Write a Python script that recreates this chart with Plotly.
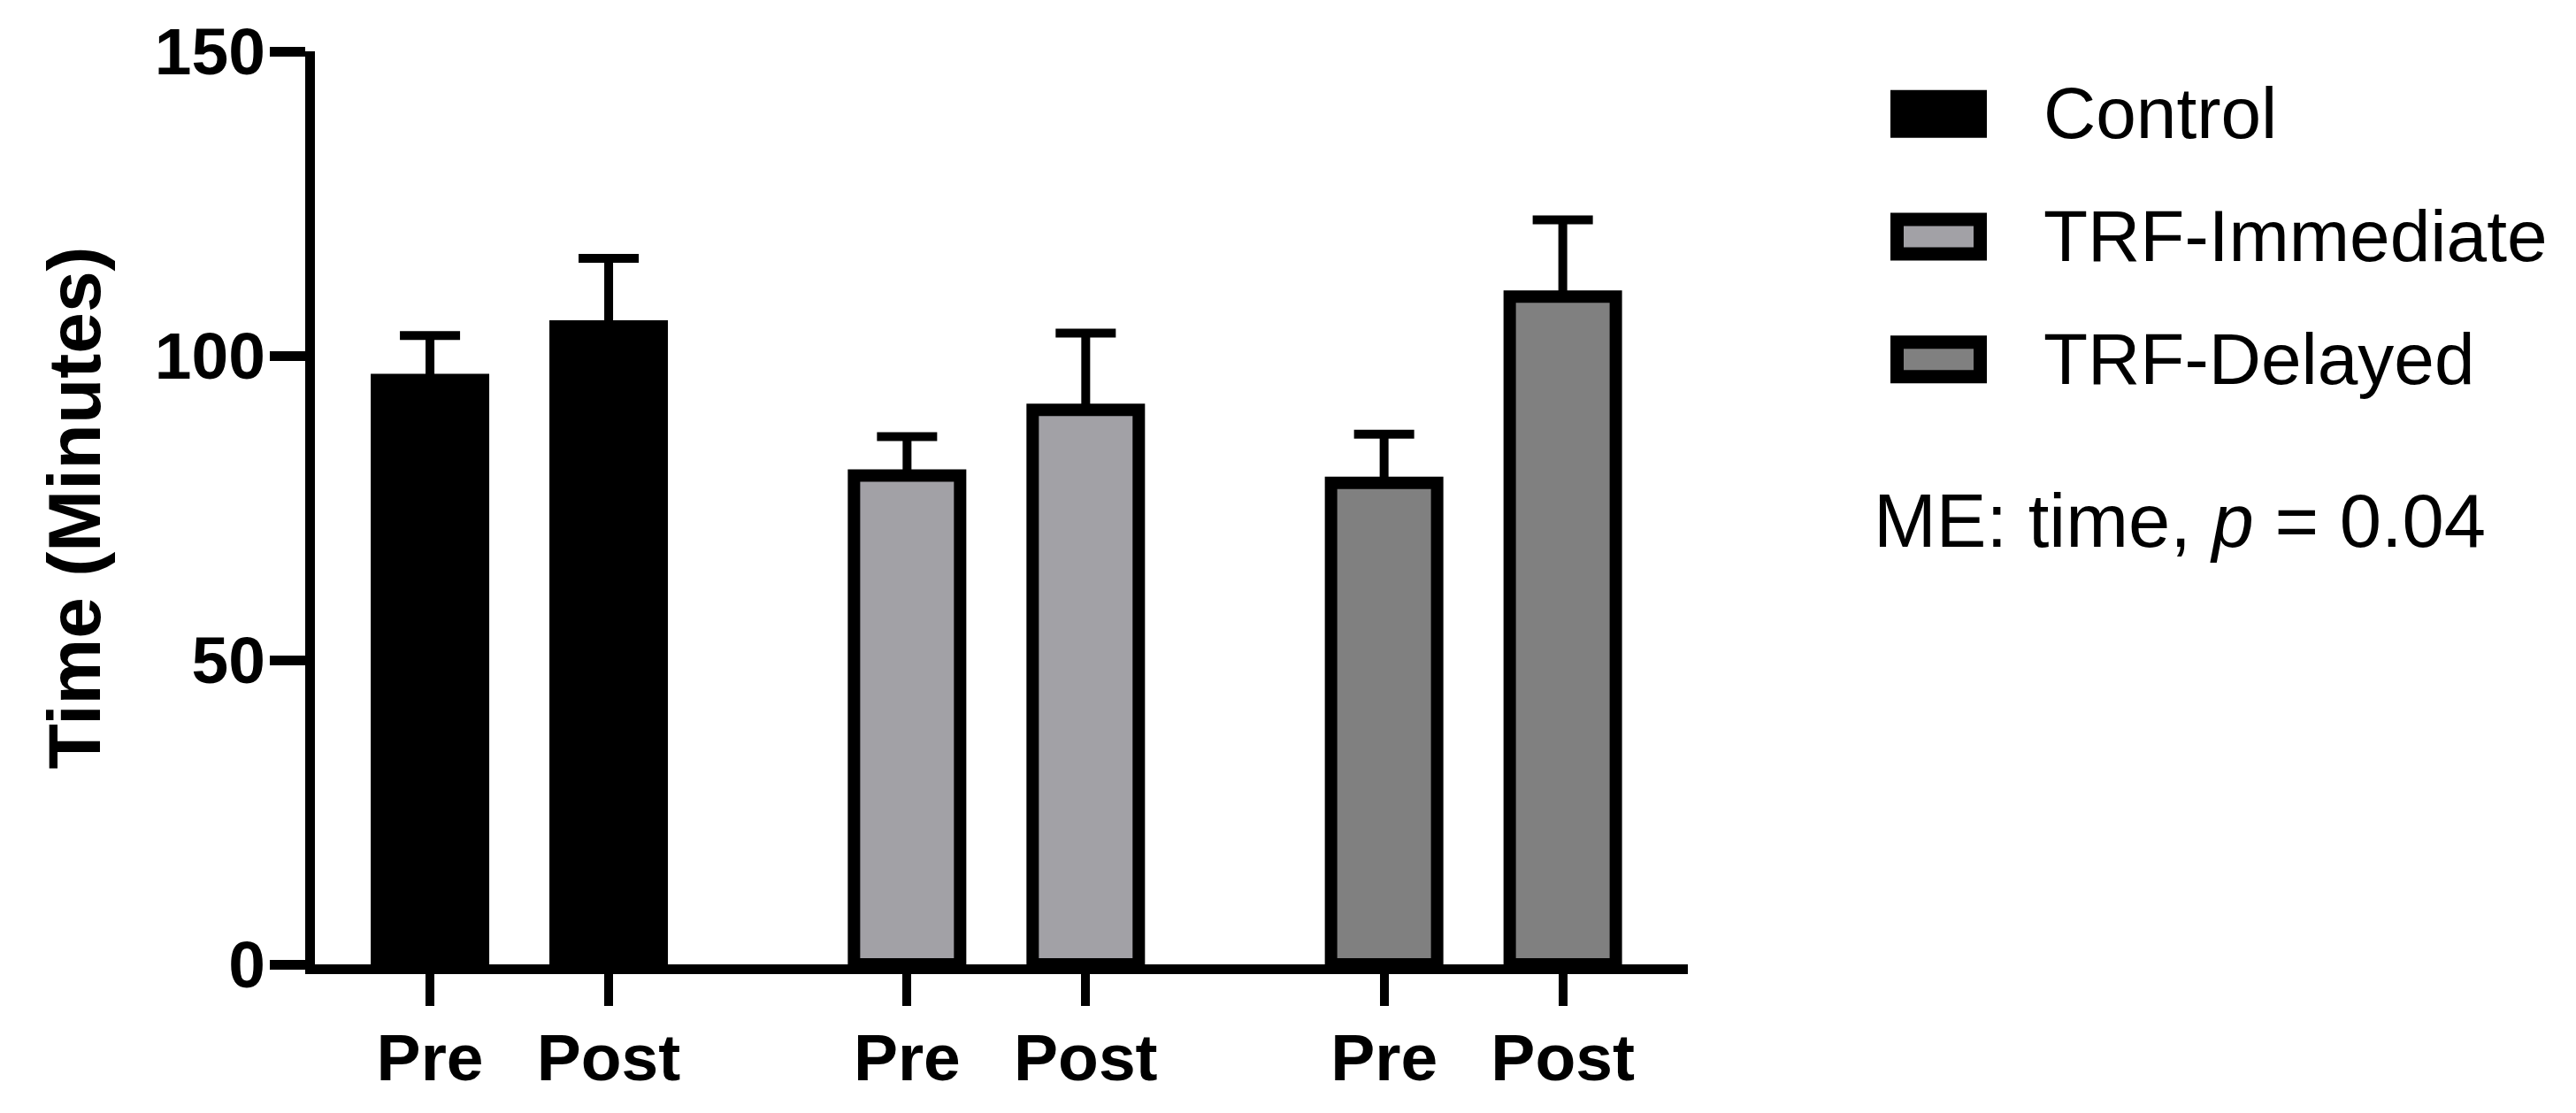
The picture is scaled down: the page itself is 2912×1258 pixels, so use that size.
import plotly.graph_objects as go

# ---------------- data ----------------
groups = ["Control", "TRF-Immediate", "TRF-Delayed"]
timepoints = ["Pre", "Post"]
means_control = [96.0, 104.8]
means_immediate = [80.3, 91.1]
means_delayed = [79.1, 109.7]
sem_control = [7.3, 11.2]
sem_immediate = [6.4, 12.6]
sem_delayed = [8.0, 12.6]
y_ticks = [0, 50, 100, 150]
stat_text = "ME: time, <i>p</i> = 0.04"

# ---------------- styling ----------------
fill_colors = ["#000000", "#A2A1A6", "#808080"]
FONT = "Arial, Liberation Sans, Helvetica, sans-serif"
W, H = 2912, 1258
OFF = 8  # page body margin offset
PW, PH = 1552, 1032
L, T = 356 - OFF, 58 - OFF
R, B = W - L - PW, H - T - PH
GROUP_STEP = 2.67
BAR_W = 0.594
X_RANGE = [-0.644, 7.04]


def px_to_paper_x(px):
    return (px - OFF - L) / PW


def px_to_paper_y(py):
    return 1 - (py - OFF - T) / PH


means = [means_control, means_immediate, means_delayed]
sems = [sem_control, sem_immediate, sem_delayed]

fig = go.Figure()
tickvals, ticktext = [], []
for gi, name in enumerate(groups):
    xs = [gi * GROUP_STEP + k for k in range(len(timepoints))]
    tickvals += xs
    ticktext += timepoints
    fig.add_trace(go.Bar(
        x=xs, y=means[gi], name=name, width=BAR_W,
        marker=dict(color=fill_colors[gi], line=dict(color="black", width=14)),
        error_y=dict(type="data", array=sems[gi], arrayminus=[0] * len(xs),
                     symmetric=False, color="black", thickness=10, width=34),
        showlegend=False,
    ))

# custom legend (large keys as in the original)
legend_x0, legend_x1 = 2137, 2246
row_centers = [128.8, 267.5, 406.2]
key_h = 54
for gi, name in enumerate(groups):
    yc = row_centers[gi]
    fig.add_shape(type="rect", xref="paper", yref="paper",
                  x0=px_to_paper_x(legend_x0 + 7.5), x1=px_to_paper_x(legend_x1 - 7.5),
                  y0=px_to_paper_y(yc - key_h / 2 + 7.5), y1=px_to_paper_y(yc + key_h / 2 - 7.5),
                  fillcolor=fill_colors[gi], line=dict(color="black", width=15))
    fig.add_annotation(text=name, xref="paper", yref="paper",
                       x=px_to_paper_x(2308), y=px_to_paper_y(yc - 1),
                       xanchor="left", yanchor="middle", showarrow=False,
                       font=dict(family=FONT, size=82, color="black"))

fig.add_annotation(text=stat_text, xref="paper", yref="paper",
                   x=px_to_paper_x(2116), y=px_to_paper_y(588),
                   xanchor="left", yanchor="middle", showarrow=False,
                   font=dict(family=FONT, size=85, color="black"))

fig.update_layout(
    width=W, height=H,
    margin=dict(l=L, r=R, t=T, b=B, pad=0, autoexpand=False),
    barmode="overlay",
    plot_bgcolor="white", paper_bgcolor="white",
    font=dict(family=FONT, color="black"),
)
fig.update_xaxes(
    range=X_RANGE, tickmode="array", tickvals=tickvals, ticktext=ticktext,
    showline=True, linecolor="black", linewidth=11,
    ticks="outside", ticklen=36, tickwidth=10, tickcolor="black",
    ticklabelstandoff=-6,
    tickfont=dict(family=FONT, size=75, color="black", weight="bold"),
    showgrid=False, zeroline=False, automargin=False,
)
fig.update_yaxes(
    range=[0, 150], tickmode="array", tickvals=y_ticks,
    showline=True, linecolor="black", linewidth=11,
    ticks="outside", ticklen=40, tickwidth=11, tickcolor="black",
    ticklabelstandoff=-10,
    tickfont=dict(family=FONT, size=75, color="black", weight="bold"),
    showgrid=False, zeroline=False, automargin=False,
    title=dict(text="Time (Minutes)", standoff=38,
               font=dict(family=FONT, size=84, color="black", weight="bold")),
)

fig.write_html("out.html")
